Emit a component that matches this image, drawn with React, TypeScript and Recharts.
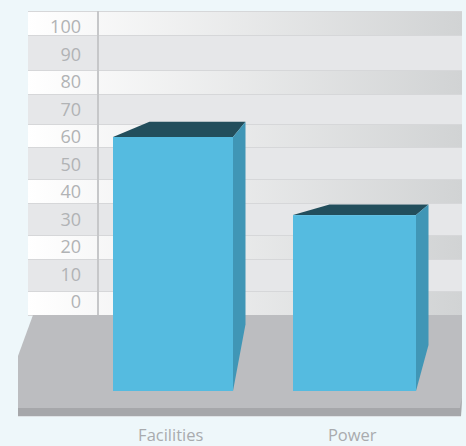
import { BarChart, Bar, XAxis, YAxis } from "recharts";

const categories = ["Facilities", "Power"];
const scores = [60, 31.6];
const yTicks = [0, 10, 20, 30, 40, 50, 60, 70, 80, 90, 100];

const data = categories.map((name, i) => ({ name, score: scores[i] }));

const PAGE_BG = "#eef7fa";
const WALL_LEFT = 28;
const WALL_RIGHT = 462;
const FLOOR_FRONT = 391; // where the bars meet the floor

// wall stripes, top to bottom
const wallEdges = [11, 35, 70, 94, 124, 147, 179, 203, 235, 259, 291, 315];

function Backdrop() {
  return (
    <g>
      <defs>
        <linearGradient id="lightBand" x1="0" y1="0" x2="1" y2="0">
          <stop offset="0" stopColor="#ffffff" />
          <stop offset="1" stopColor="#d1d3d4" />
        </linearGradient>
      </defs>
      {wallEdges.slice(0, -1).map((top, i) => (
        <rect
          key={top}
          x={WALL_LEFT}
          y={top}
          width={WALL_RIGHT - WALL_LEFT}
          height={wallEdges[i + 1] - top}
          fill={i % 2 === 0 ? "url(#lightBand)" : "#e6e7e9"}
        />
      ))}
      {wallEdges.map((top) => (
        <line key={top} x1={WALL_LEFT} x2={WALL_RIGHT} y1={top + 0.5} y2={top + 0.5} stroke="#d6d7d9" />
      ))}
      <line x1={98} x2={98} y1={11} y2={315} stroke="#c6c7c9" strokeWidth={2} />
      {/* floor slab and its front edge */}
      <polygon points="18,416 18,356 33,315 462,315 462,396 461,416" fill="#bcbdc0" />
      <polygon points="18,408 460,408 462,396 461,416 18,416" fill="#a6a7aa" />
      <line x1={18} x2={461} y1={416.5} y2={416.5} stroke="#dfe3e6" />
    </g>
  );
}

// Box with a front face, a top and a right side; the depth grows with its height
function BoxBar(props: any) {
  const { x, y, width, index } = props;
  const inset = index === 0 ? 1.5 : 0;
  const left = Math.round(x + inset);
  const right = Math.round(x + width - inset);
  const h = FLOOR_FRONT - y;
  const topRise = h * 0.06;
  const backTop = y - topRise;
  const backBottom = FLOOR_FRONT - h * 0.262;
  const sideDx = 12.5;
  const topDx = 36.5;
  return (
    <g>
      <polygon
        points={`${left},${y} ${left + topDx},${backTop} ${right + sideDx},${backTop} ${right},${y}`}
        fill="#224e5c"
      />
      <polygon
        points={`${right},${y} ${right + sideDx},${backTop} ${right + sideDx},${backBottom} ${right},${FLOOR_FRONT}`}
        fill="#4096b6"
      />
      <rect x={left} y={y} width={right - left} height={h} fill="#55bbe0" />
    </g>
  );
}

export default function App() {
  return (
    <div style={{ position: "fixed", left: 0, top: 0, width: 466, height: 446, background: PAGE_BG, overflow: "hidden" }}>
      <BarChart
        width={466}
        height={446}
        data={data}
        margin={{ top: 27, right: 21, bottom: 0, left: 0 }}
        style={{ fontFamily: "'Open Sans', sans-serif" }}
      >
        <Backdrop />
        <YAxis
          width={82}
          domain={[0, 100]}
          ticks={yTicks}
          interval={0}
          axisLine={false}
          tickLine={false}
          tickSize={0}
          tickMargin={1}
          tick={{ fill: "#b1b3b5", fontSize: 18 }}
        />
        <XAxis
          dataKey="name"
          height={144}
          axisLine={false}
          tickLine={false}
          tickSize={0}
          tickMargin={127}
          tick={{ fill: "#a9abae", fontSize: 16.5, dx: -2 }}
        />
        <Bar dataKey="score" barSize={123} shape={BoxBar} isAnimationActive={false} />
      </BarChart>
    </div>
  );
}
